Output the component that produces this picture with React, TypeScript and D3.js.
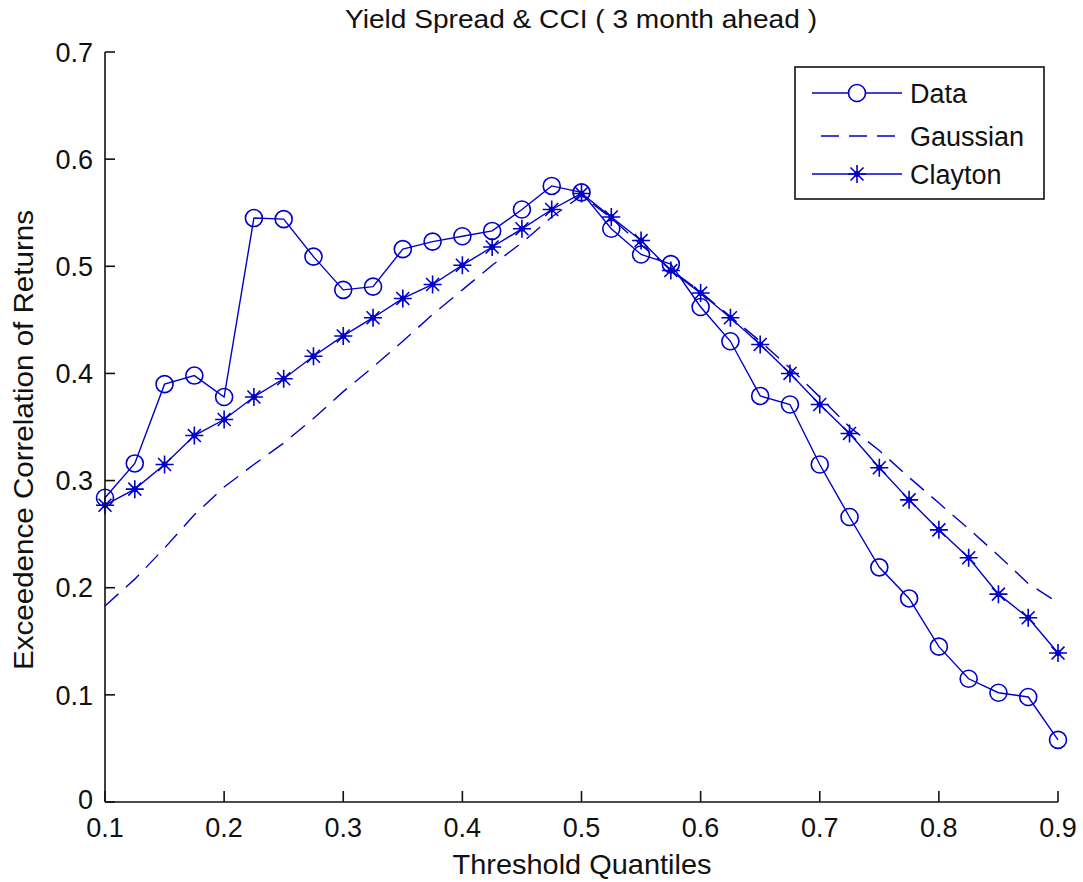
import React from "react";
import * as d3 from "d3";

const quantiles = [0.1,0.125,0.15,0.175,0.2,0.225,0.25,0.275,0.3,0.325,0.35,0.375,0.4,0.425,0.45,0.475,0.5,0.525,0.55,0.575,0.6,0.625,0.65,0.675,0.7,0.725,0.75,0.775,0.8,0.825,0.85,0.875,0.9];
const dataSeries = [0.284,0.316,0.390,0.398,0.378,0.545,0.544,0.509,0.478,0.481,0.516,0.523,0.528,0.533,0.553,0.575,0.569,0.535,0.511,0.502,0.462,0.430,0.379,0.371,0.315,0.266,0.219,0.190,0.145,0.115,0.102,0.098,0.058];
const gaussianSeries = [0.183,0.208,0.237,0.268,0.294,0.315,0.335,0.358,0.383,0.406,0.430,0.455,0.478,0.501,0.522,0.546,0.566,0.545,0.520,0.497,0.476,0.453,0.430,0.405,0.378,0.350,0.328,0.303,0.279,0.255,0.230,0.204,0.186];
const claytonSeries = [0.277,0.292,0.315,0.342,0.357,0.378,0.395,0.416,0.435,0.452,0.470,0.483,0.501,0.518,0.535,0.553,0.568,0.546,0.524,0.496,0.475,0.452,0.427,0.400,0.371,0.344,0.312,0.282,0.254,0.228,0.194,0.172,0.139];
const xTicks = [0.1,0.2,0.3,0.4,0.5,0.6,0.7,0.8,0.9];
const yTicks = [0,0.1,0.2,0.3,0.4,0.5,0.6,0.7];
const legendLabels = ["Data","Gaussian","Clayton"];

const W = 1083, H = 882;
const left = 105, right = 1058, top = 52, bottom = 802;
const BLUE = "#0000c8";
const FONT = "'Liberation Sans', Arial, sans-serif";

const x = d3.scaleLinear().domain([0.1, 0.9]).range([left, right]);
const y = d3.scaleLinear().domain([0, 0.7]).range([bottom, top]);

const line = d3.line<number>().x((_, i) => x(quantiles[i])).y((d) => y(d));

const fmt = (v: number) => (v === 0 ? "0" : d3.format(".1f")(v));

function Star({ cx, cy, r }: { cx: number; cy: number; r: number }) {
  const d = r * 0.72;
  return (
    <g>
      <path
        d={`M${cx - r},${cy}H${cx + r}M${cx},${cy - r}V${cy + r}M${cx - d},${cy - d}L${cx + d},${cy + d}M${cx - d},${cy + d}L${cx + d},${cy - d}`}
        stroke={BLUE}
        strokeWidth={1.6}
        fill="none"
      />
      <circle cx={cx} cy={cy} r={3} fill={BLUE} />
    </g>
  );
}

export default function App() {
  const legX0 = 812, legX1 = 902, legMid = 857, legText = 910;
  const legY = [93, 136, 174];
  return (
    <svg
      width={W}
      height={H}
      style={{ position: "absolute", left: 0, top: 0, background: "#fff" }}
      fontFamily={FONT}
    >
      <rect x={0} y={0} width={W} height={H} fill="#fff" />
      {/* title */}
      <text x={581} y={28} fontSize={25} textAnchor="middle" textLength={472} lengthAdjust="spacingAndGlyphs" fill="#111">
        Yield Spread &amp; CCI ( 3 month ahead )
      </text>

      {/* series */}
      <path d={line(gaussianSeries) || ""} fill="none" stroke={BLUE} strokeWidth={1.4} strokeDasharray="18,10" />
      <path d={line(claytonSeries) || ""} fill="none" stroke={BLUE} strokeWidth={1.4} />
      <path d={line(dataSeries) || ""} fill="none" stroke={BLUE} strokeWidth={1.4} />
      {claytonSeries.map((v, i) => (
        <Star key={"s" + i} cx={x(quantiles[i])} cy={y(v)} r={9} />
      ))}
      {dataSeries.map((v, i) => (
        <circle key={"c" + i} cx={x(quantiles[i])} cy={y(v)} r={8.5} fill="none" stroke={BLUE} strokeWidth={1.6} />
      ))}

      {/* axes */}
      <line x1={left} y1={top} x2={left} y2={bottom} stroke="#111" strokeWidth={1.6} />
      <line x1={left} y1={bottom} x2={right} y2={bottom} stroke="#111" strokeWidth={1.6} />
      {yTicks.map((t) => (
        <g key={"y" + t}>
          <line x1={left} x2={left + 10} y1={y(t)} y2={y(t)} stroke="#111" strokeWidth={1.6} />
          <text x={93} y={t === 0 ? y(t) - 3 : y(t)} dy="0.36em" fontSize={27} textAnchor="end" fill="#111">
            {fmt(t)}
          </text>
        </g>
      ))}
      {xTicks.map((t) => (
        <g key={"x" + t}>
          <line x1={x(t)} x2={x(t)} y1={bottom} y2={bottom - 11} stroke="#111" strokeWidth={1.6} />
          <text x={x(t)} y={837} fontSize={27} textAnchor="middle" fill="#111">
            {fmt(t)}
          </text>
        </g>
      ))}

      {/* axis labels */}
      <text x={582} y={874} fontSize={28} textAnchor="middle" textLength={259} lengthAdjust="spacingAndGlyphs" fill="#111">
        Threshold Quantiles
      </text>
      <text
        transform={`translate(33,440) rotate(-90)`}
        fontSize={28}
        textAnchor="middle"
        textLength={460}
        lengthAdjust="spacingAndGlyphs"
        fill="#111"
      >
        Exceedence Correlation of Returns
      </text>

      {/* legend */}
      <rect x={795} y={67} width={249} height={132} fill="#fff" stroke="#111" strokeWidth={1.6} />
      {legendLabels.map((lab, i) => (
        <g key={lab}>
          <line
            x1={i === 1 ? 821 : legX0}
            x2={legX1}
            y1={legY[i]}
            y2={legY[i]}
            stroke={BLUE}
            strokeWidth={1.4}
            strokeDasharray={i === 1 ? "18,10" : undefined}
          />
          {i === 0 && <circle cx={legMid} cy={legY[i]} r={8.5} fill="#fff" stroke={BLUE} strokeWidth={1.6} />}
          {i === 2 && <Star cx={legMid} cy={legY[i]} r={9} />}
          <text x={legText} y={legY[i]} dy="0.36em" fontSize={27} fill="#111">
            {lab}
          </text>
        </g>
      ))}
    </svg>
  );
}
